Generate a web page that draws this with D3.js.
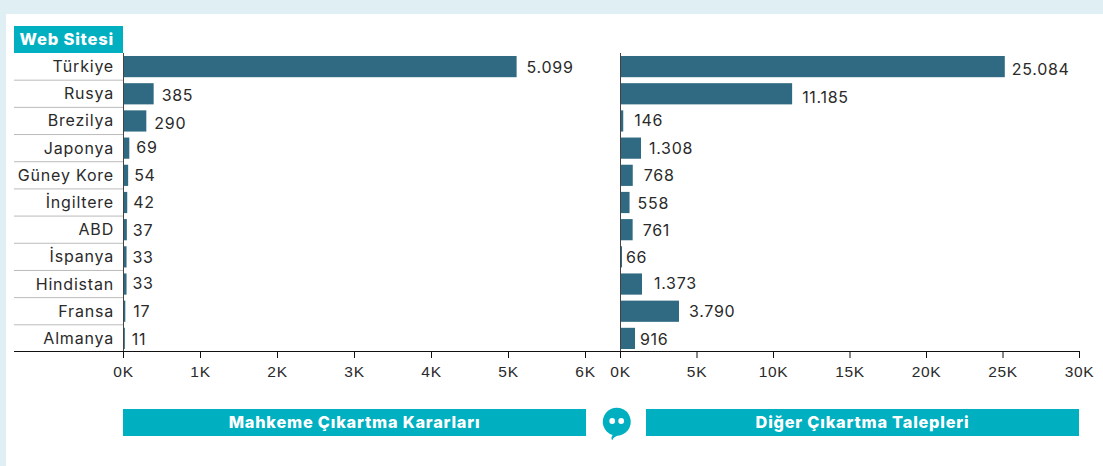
<!DOCTYPE html>
<html>
<head>
<meta charset="utf-8">
<script src="https://cdn.jsdelivr.net/npm/d3@7"></script>
<style>
  html, body { margin: 0; padding: 0; background: #e0eff3; overflow: hidden; }
  svg { display: block; font-family: Inter, "Open Sans", sans-serif; }
  .tick text { font-size: 15.5px; letter-spacing: 0.7px; fill: #2a2a2a; }
  .tick line { stroke: #111; }
</style>
</head>
<body>
<script>
var width = 1103,
    height = 466;

var sites = ['Türkiye', 'Rusya', 'Brezilya', 'Japonya', 'Güney Kore', 'İngiltere', 'ABD', 'İspanya', 'Hindistan', 'Fransa', 'Almanya'];
var courtOrders = [5099, 385, 290, 69, 54, 42, 37, 33, 33, 17, 11];
var otherRequests = [25084, 11185, 146, 1308, 768, 558, 761, 66, 1373, 3790, 916];
var courtTicks = [0, 1000, 2000, 3000, 4000, 5000, 6000];
var otherTicks = [0, 5000, 10000, 15000, 20000, 25000, 30000];

// the value labels sit a little off the bar ends in the original
var courtNudgeX = [2, 0, 0, -1, -2, -2, -2, -2, -2, 0, -1];
var courtNudgeY = [0, 1, 2, -1, 0, -1, 0, 0, -1, 0, 1];
var otherNudgeX = [-1, 2, 3, 0, 3, 0, 2, -4, 4, 2, -3];
var otherNudgeY = [2, 3, -1, 0, 0, 0, 0, 0, -1, 0, 1];

var teal = '#00b0c1',
    barColor = '#2f6a82',
    textColor = '#2a2a2a';

var svg = d3.select('body')
  .append('svg')
  .attr('width', width)
  .attr('height', height);

svg.append('rect')
  .attr('x', 6)
  .attr('y', 14)
  .attr('width', width - 6)
  .attr('height', height - 14)
  .style('fill', '#fff');

var yScale = d3.scaleBand()
  .domain(sites)
  .range([53, 352])
  .paddingInner(0.22)
  .paddingOuter(0.11);

var axisY = 351;

// grey separators under the site names
svg.selectAll('.sep')
  .data(sites.slice(0, -1))
  .enter()
  .append('line')
  .attr('class', 'sep')
  .attr('x1', 14)
  .attr('x2', 123)
  .attr('y1', (d) => yScale(d) + yScale.bandwidth() + yScale.step() * 0.11)
  .attr('y2', (d) => yScale(d) + yScale.bandwidth() + yScale.step() * 0.11)
  .style('stroke', '#bbb')
  .style('stroke-width', 1);

svg.append('rect')
  .attr('x', 14)
  .attr('y', 26)
  .attr('width', 109)
  .attr('height', 27)
  .style('fill', teal);

svg.append('text')
  .attr('x', 114)
  .attr('y', 45)
  .attr('text-anchor', 'end')
  .style('font-size', '16.5px')
  .style('font-weight', 800)
  .style('letter-spacing', '0.8px')
  .style('fill', '#fff')
  .text('Web Sitesi');

svg.selectAll('.site')
  .data(sites)
  .enter()
  .append('text')
  .attr('class', 'site')
  .attr('x', 114)
  .attr('y', (d) => yScale(d) + yScale.bandwidth() / 2 + 5.5)
  .attr('text-anchor', 'end')
  .style('font-size', '16px')
  .style('letter-spacing', '0.8px')
  .style('fill', textColor)
  .text((d) => d);

function panel(values, ticks, x0, x1, nudgeX, nudgeY) {
  var xScale = d3.scaleLinear()
    .domain([ticks[0], ticks[ticks.length - 1]])
    .range([x0, x1]);

  // bars start just right of the vertical line
  svg.selectAll('.bar' + x0)
    .data(values)
    .enter()
    .append('rect')
    .attr('class', 'bar' + x0)
    .attr('x', x0 + 1)
    .attr('y', (d, i) => yScale(sites[i]))
    .attr('width', (d) => xScale(d) - x0)
    .attr('height', yScale.bandwidth())
    .style('fill', barColor);

  svg.selectAll('.val' + x0)
    .data(values)
    .enter()
    .append('text')
    .attr('class', 'val' + x0)
    .attr('x', (d, i) => xScale(d) + 9 + nudgeX[i])
    .attr('y', (d, i) => yScale(sites[i]) + yScale.bandwidth() / 2 + 6 + nudgeY[i])
    .style('font-size', '16px')
    .style('letter-spacing', '0.7px')
    .style('fill', textColor)
    .text((d) => d3.format(',')(d).replace(/,/g, '.'));

  var xAxis = d3.axisBottom(xScale)
    .tickValues(ticks)
    .tickSize(7)
    .tickPadding(8)
    .tickFormat((d) => (d / 1000) + 'K');

  var g = svg.append('g')
    .attr('transform', 'translate(0,' + axisY + ')')
    .call(xAxis);
  g.select('.domain').remove();

  svg.append('line')
    .attr('x1', x0 + 0.5)
    .attr('x2', x0 + 0.5)
    .attr('y1', 53)
    .attr('y2', axisY)
    .style('stroke', '#444');
}

panel(courtOrders, courtTicks, 123, 585, courtNudgeX, courtNudgeY);
panel(otherRequests, otherTicks, 620, 1079, otherNudgeX, otherNudgeY);

svg.append('line')
  .attr('x1', 14)
  .attr('x2', 1079)
  .attr('y1', axisY + 0.5)
  .attr('y2', axisY + 0.5)
  .style('stroke', '#111');

// bottom banners
var banners = [
  { x: 123, w: 463, label: 'Mahkeme Çıkartma Kararları' },
  { x: 646, w: 433, label: 'Diğer Çıkartma Talepleri' }
];

svg.selectAll('.banner')
  .data(banners)
  .enter()
  .append('rect')
  .attr('class', 'banner')
  .attr('x', (d) => d.x)
  .attr('y', 409)
  .attr('width', (d) => d.w)
  .attr('height', 27)
  .style('fill', teal);

svg.selectAll('.bannerText')
  .data(banners)
  .enter()
  .append('text')
  .attr('class', 'bannerText')
  .attr('x', (d) => d.x + d.w / 2)
  .attr('y', 428)
  .attr('text-anchor', 'middle')
  .style('font-size', '16.3px')
  .style('font-weight', 800)
  .style('letter-spacing', '0.8px')
  .style('fill', '#fff')
  .text((d) => d.label);

// speech bubble between the banners
var icon = svg.append('g').attr('transform', 'translate(616.7,421.7)');
icon.append('path')
  .attr('d', 'M-4,13.4 A14,14 0 1 1 3,13.7 C-0.5,13.8 -3,15 -4.5,18.5 C-6,17 -5,15 -4,13.4 Z')
  .style('fill', teal);
icon.selectAll('circle')
  .data([-4.5, 4.5])
  .enter()
  .append('circle')
  .attr('cx', (d) => d)
  .attr('cy', -0.7)
  .attr('r', 2.9)
  .style('fill', '#fff');
</script>
</body>
</html>
